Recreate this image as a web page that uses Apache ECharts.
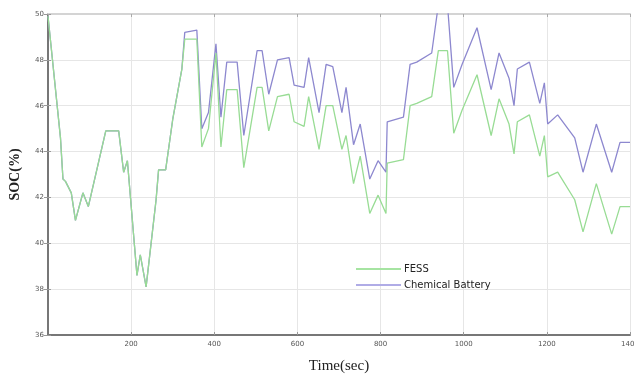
<!DOCTYPE html>
<html>
<head>
<meta charset="utf-8">
<title>SOC</title>
<script src="https://cdn.jsdelivr.net/npm/echarts@6/dist/echarts.min.js"></script>
<style>
  html, body { margin: 0; padding: 0; background: #fff; }
  #chart { width: 634px; height: 375px; }
</style>
</head>
<body>
<div id="chart"></div>
<script>
// time axis (sec), shared by both curves
var timeSec = [0, 30, 36, 42, 56, 66, 84, 97, 139, 170, 182, 191, 214, 222, 236, 260, 266, 283, 300, 322,
  329, 358, 370, 386, 404, 416, 430, 455, 471, 503, 515, 531, 552, 580, 592, 616, 627, 652, 669, 685,
  707, 717, 735, 751, 774, 794, 813, 816, 855, 871, 887, 923, 939, 961, 976, 996, 1032, 1066, 1085, 1109,
  1121, 1129, 1158, 1183, 1194, 1202, 1226, 1267, 1287, 1319, 1356, 1376, 1400];

var fessSoc = [49.9, 44.6, 42.8, 42.7, 42.2, 41.0, 42.2, 41.6, 44.9, 44.9, 43.1, 43.6, 38.6, 39.5, 38.1, 41.9, 43.2, 43.2, 45.4, 47.6,
  48.9, 48.9, 44.2, 45.0, 48.3, 44.2, 46.7, 46.7, 43.3, 46.8, 46.8, 44.9, 46.4, 46.5, 45.3, 45.1, 46.4, 44.1, 46.0, 46.0,
  44.1, 44.7, 42.6, 43.8, 41.3, 42.1, 41.3, 43.5, 43.65, 46.0, 46.1, 46.4, 48.4, 48.4, 44.8, 45.8, 47.35, 44.7, 46.3, 45.2,
  43.9, 45.3, 45.6, 43.8, 44.7, 42.9, 43.1, 41.9, 40.5, 42.6, 40.4, 41.6, 41.6];

var batterySoc = [49.9, 44.6, 42.8, 42.7, 42.2, 41.0, 42.2, 41.6, 44.9, 44.9, 43.1, 43.6, 38.6, 39.5, 38.1, 41.9, 43.2, 43.2, 45.4, 47.6,
  49.2, 49.3, 45.0, 45.7, 48.7, 45.5, 47.9, 47.9, 44.7, 48.4, 48.4, 46.5, 48.0, 48.1, 46.9, 46.8, 48.1, 45.7, 47.8, 47.7,
  45.7, 46.8, 44.3, 45.2, 42.8, 43.6, 43.1, 45.3, 45.5, 47.8, 47.9, 48.3, 50.4, 50.4, 46.8, 47.8, 49.4, 46.7, 48.3, 47.2,
  46.0, 47.6, 47.9, 46.1, 47.0, 45.2, 45.6, 44.6, 43.1, 45.2, 43.1, 44.4, 44.4];

var seriesNames = ['FESS', 'Chemical Battery'];

function pairs(xs, ys) {
  var out = [];
  for (var i = 0; i < xs.length; i++) out.push([xs[i], ys[i]]);
  return out;
}

var chart = echarts.init(document.getElementById('chart'));
var tickLabel = { fontSize: 7, color: '#555', fontFamily: 'DejaVu Sans', formatter: function (v) { return String(v); } };

var option = {
  backgroundColor: '#fff',
  animation: false,
  grid: { left: 48, right: 4, top: 14, bottom: 40, containLabel: false, outerBoundsMode: 'none' },
  legend: {
    data: [
      { name: seriesNames[0], itemStyle: { color: '#a6e4a2' } },
      { name: seriesNames[1], itemStyle: { color: '#b0ace6' } }
    ],
    orient: 'vertical',
    icon: 'rect',
    left: 351,
    top: 259,
    itemWidth: 45,
    itemHeight: 2,
    itemGap: 6,
    textStyle: { fontSize: 10, color: '#222', fontFamily: 'DejaVu Sans', padding: [0, 0, 0, -2] }
  },
  xAxis: [{
    type: 'value',
    min: 0, max: 1400, interval: 200,
    name: 'Time(sec)',
    nameLocation: 'middle',
    nameGap: 24,
    nameTextStyle: { fontFamily: 'Liberation Serif', fontSize: 15, color: '#222' },
    axisLine: { lineStyle: { color: '#777', width: 2 } },
    axisTick: { inside: true, length: 3, lineStyle: { color: '#999' } },
    axisLabel: Object.assign({ margin: 6, showMinLabel: false }, tickLabel),
    splitLine: { lineStyle: { color: '#e6e6e6', width: 1 } }
  }, {
    type: 'value', position: 'top',
    min: 0, max: 1400, interval: 200,
    axisLine: { lineStyle: { color: '#d4d4d4', width: 2 } },
    axisTick: { inside: true, length: 3, lineStyle: { color: '#aaa' } },
    axisLabel: { show: false },
    splitLine: { show: false }
  }],
  yAxis: [{
    type: 'value',
    min: 36, max: 50, interval: 2,
    name: 'SOC(%)',
    nameLocation: 'middle',
    nameGap: 26,
    nameRotate: 90,
    nameTextStyle: { fontFamily: 'Liberation Serif', fontSize: 14, fontWeight: 'bold', color: '#222' },
    axisLine: { show: true, lineStyle: { color: '#777', width: 2 } },
    axisTick: { show: true, inside: true, length: 3, lineStyle: { color: '#999' } },
    axisLabel: Object.assign({ margin: 4 }, tickLabel),
    splitLine: { lineStyle: { color: '#e6e6e6', width: 1 } }
  }, {
    type: 'value', position: 'right',
    min: 36, max: 50, interval: 2,
    axisLine: { show: false },
    axisTick: { show: true, inside: true, length: 4, lineStyle: { color: '#999' } },
    axisLabel: { show: false },
    splitLine: { show: false }
  }],
  series: [{
    name: seriesNames[0],
    type: 'line',
    symbol: 'none',
    data: pairs(timeSec, fessSoc),
    lineStyle: { color: '#98dc94', width: 1.3 },
    itemStyle: { color: '#98dc94' },
    z: 3
  }, {
    name: seriesNames[1],
    type: 'line',
    symbol: 'none',
    data: pairs(timeSec, batterySoc),
    lineStyle: { color: '#8d88cf', width: 1.3 },
    itemStyle: { color: '#8d88cf' },
    z: 2
  }]
};
chart.setOption(option);
</script>
</body>
</html>
